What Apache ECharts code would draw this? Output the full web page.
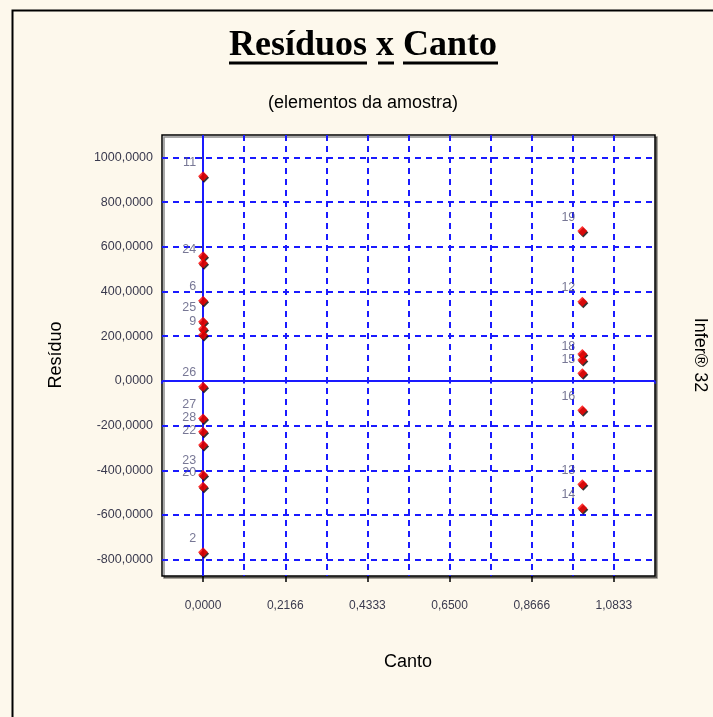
<!DOCTYPE html>
<html>
<head>
<meta charset="utf-8">
<script src="https://cdn.jsdelivr.net/npm/echarts@6/dist/echarts.min.js"></script>
<style>
  html, body { margin: 0; padding: 0; background: #fdf8ec; }
  #chart { width: 713px; height: 717px; }
</style>
</head>
<body>
<div id="chart"></div>
<script>
// Residuals of each sample element against the "Canto" variable
const pointLabels = ['11', '', '24', '6', '25', '', '9', '26', '27', '28', '22', '23', '20', '2',
                     '19', '12', '', '18', '15', '16', '13', '14'];
const canto = [0, 0, 0, 0, 0, 0, 0, 0, 0, 0, 0, 0, 0, 0,
               1, 1, 1, 1, 1, 1, 1, 1];
const residuo = [916, 557, 526, 358, 264, 232, 205, -26, -168, -228, -287, -421, -474, -767,
                 670, 354, 120, 93, 34, -131, -463, -570];

// Axis ticks and their printed labels
const xTickValues = [0, 0.216667, 0.433333, 0.65, 0.866667, 1.083333];
const xTickLabels = ['0,0000', '0,2166', '0,4333', '0,6500', '0,8666', '1,0833'];
const yTickValues = [-800, -600, -400, -200, 0, 200, 400, 600, 800, 1000];
const yTickLabels = ['-800,0000', '-600,0000', '-400,0000', '-200,0000', '0,0000',
                     '200,0000', '400,0000', '600,0000', '800,0000', '1000,0000'];

const xStep = 1.3 / 12;
const xMin = -xStep, xMax = 11 * xStep;
const yMin = -873, yMax = 1100;

const BLUE = '#1a1aff';
const dash = [6, 5];

function nearestLabel(values, labels, v) {
  let best = 0;
  for (let i = 1; i < values.length; i++) {
    if (Math.abs(values[i] - v) < Math.abs(values[best] - v)) best = i;
  }
  return labels[best];
}

const points = canto.map((c, i) => ({ value: [c, residuo[i]], name: pointLabels[i] }));

const gridLines = yTickValues.map(v => ({
  yAxis: v,
  lineStyle: v === 0 ? { type: 'solid', width: 2, color: BLUE } : { type: dash, width: 2, color: BLUE }
}));
gridLines.push({ xAxis: 0, lineStyle: { type: 'solid', width: 2, color: BLUE } });

const tickFont = { fontFamily: 'Liberation Sans, Arial', color: '#3a3a4e' };

const chart = echarts.init(document.getElementById('chart'));
chart.setOption({
  backgroundColor: '#fdf8ec',
  animation: false,
  grid: {
    left: 162, top: 135, width: 493, height: 441,
    show: true, backgroundColor: '#ffffff',
    borderColor: '#000', borderWidth: 1.5,
    shadowColor: 'rgba(0,0,0,0.45)', shadowOffsetX: 2, shadowOffsetY: 2, shadowBlur: 0
  },
  xAxis: [{
    // every step: blue minor ticks and dashed vertical grid
    type: 'value', min: xMin, max: xMax, interval: xStep,
    position: 'bottom',
    axisLine: { show: false },
    axisTick: { show: true, length: 3, lineStyle: { color: BLUE, width: 1.5 } },
    axisLabel: {
      customValues: xTickValues, margin: 24, fontSize: 12, ...tickFont,
      formatter: v => nearestLabel(xTickValues, xTickLabels, v)
    },
    splitLine: { show: true, showMinLine: false, showMaxLine: false,
                 lineStyle: { type: dash, width: 2, color: BLUE } }
  }, {
    // labelled positions: black major ticks
    type: 'value', min: xMin, max: xMax, interval: xStep,
    position: 'bottom', gridIndex: 0,
    axisLine: { show: false },
    axisTick: { show: true, length: 6, lineStyle: { color: '#000', width: 1.5 }, customValues: xTickValues },
    axisLabel: { show: false },
    splitLine: { show: false }
  }],
  yAxis: {
    type: 'value', min: yMin, max: yMax,
    axisLine: { show: false },
    axisTick: { show: true, length: 6, lineStyle: { color: '#000', width: 1.5 }, customValues: yTickValues },
    axisLabel: {
      customValues: yTickValues, margin: 9, fontSize: 12.5, ...tickFont,
      formatter: v => nearestLabel(yTickValues, yTickLabels, v)
    },
    splitLine: { show: false }
  },
  series: [{
    type: 'line', data: [], z: 1, silent: true,
    markLine: { silent: true, symbol: 'none', label: { show: false }, data: gridLines }
  }, {
    type: 'scatter', z: 5, data: points,
    symbol: 'diamond', symbolSize: 10,
    itemStyle: {
      color: '#ff0000', borderWidth: 0,
      shadowColor: '#000', shadowOffsetX: 1, shadowOffsetY: 1.5, shadowBlur: 0
    },
    label: {
      show: true, position: 'left', distance: 2, offset: [0, -14],
      formatter: p => p.name,
      fontFamily: 'Liberation Sans, Arial', fontSize: 12.5, color: '#55557a'
    }
  }],
  graphic: [
    { type: 'rect', left: 10, top: 8, z: 100,
      shape: { width: 800, height: 800 },
      style: { fill: 'none', stroke: '#000', lineWidth: 2 } },
    { type: 'text', x: 363, y: 46, z: 100,
      style: { text: 'Resíduos x Canto', fontFamily: 'Liberation Serif, Times New Roman', fontWeight: 'bold',
               fontSize: 36, fill: '#000', align: 'center', verticalAlign: 'middle' } },
    { type: 'line', z: 100, shape: { x1: 229, y1: 63, x2: 367, y2: 63 }, style: { stroke: '#000', lineWidth: 3 } },
    { type: 'line', z: 100, shape: { x1: 378, y1: 63, x2: 394, y2: 63 }, style: { stroke: '#000', lineWidth: 3 } },
    { type: 'line', z: 100, shape: { x1: 403, y1: 63, x2: 498, y2: 63 }, style: { stroke: '#000', lineWidth: 3 } },
    { type: 'text', x: 363, y: 103, z: 100,
      style: { text: '(elementos da amostra)', fontFamily: 'Liberation Sans, Arial', fontSize: 18,
               fill: '#000', align: 'center', verticalAlign: 'middle' } },
    { type: 'text', x: 56, y: 355, rotation: Math.PI / 2, z: 100,
      style: { text: 'Resíduo', fontFamily: 'Liberation Sans, Arial', fontSize: 18,
               fill: '#000', align: 'center', verticalAlign: 'middle' } },
    { type: 'text', x: 408, y: 662, z: 100,
      style: { text: 'Canto', fontFamily: 'Liberation Sans, Arial', fontSize: 18,
               fill: '#000', align: 'center', verticalAlign: 'middle' } },
    { type: 'text', x: 700, y: 355, rotation: -Math.PI / 2, z: 100,
      style: { text: 'Infer® 32', fontFamily: 'Liberation Sans, Arial', fontSize: 18,
               fill: '#000', align: 'center', verticalAlign: 'middle' } }
  ]
});
</script>
</body>
</html>
